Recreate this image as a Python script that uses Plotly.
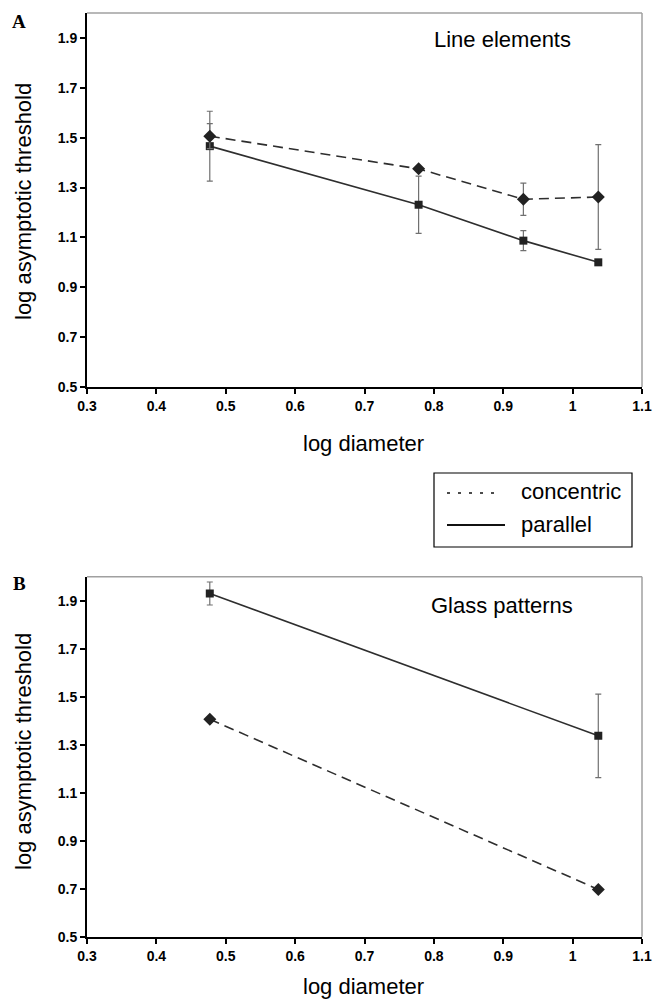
import plotly.graph_objects as go

# ---- data ----
x_line = [0.477, 0.778, 0.929, 1.037]
line_concentric = [1.506, 1.375, 1.253, 1.262]
line_concentric_err = [0.05, 0.0, 0.065, 0.21]
line_parallel = [1.466, 1.231, 1.087, 1.0]
line_parallel_err = [0.14, 0.115, 0.04, 0.0]

x_glass = [0.477, 1.037]
glass_concentric = [1.406, 0.697]
glass_concentric_err = [0.0, 0.0]
glass_parallel = [1.930, 1.337]
glass_parallel_err = [0.048, 0.174]

x_ticks = [0.3, 0.4, 0.5, 0.6, 0.7, 0.8, 0.9, 1.0, 1.1]
x_ticklabels = ["0.3", "0.4", "0.5", "0.6", "0.7", "0.8", "0.9", "1", "1.1"]
y_ticks = [0.5, 0.7, 0.9, 1.1, 1.3, 1.5, 1.7, 1.9]
y_ticklabels = ["0.5", "0.7", "0.9", "1.1", "1.3", "1.5", "1.7", "1.9"]

legend_names = ["concentric", "parallel"]

W, H = 654, 1003
FONT = "Liberation Sans, Arial, sans-serif"
SERIF = "Liberation Serif, Times New Roman, serif"
LINE_C = "#2e2e2e"
ERR_C = "#707070"
DASH = "10px,6px"

fig = go.Figure()


def add_series(x, y, err, symbol, dash, xa, ya, name):
    fig.add_trace(go.Scatter(
        x=x, y=y, mode="lines+markers", xaxis=xa, yaxis=ya, showlegend=False, name=name,
        line=dict(color=LINE_C, width=1.6, dash=dash),
        marker=dict(symbol=symbol, size=8 if symbol == "square" else 10, color="#222222"),
        error_y=dict(type="data", array=err, visible=True, color=ERR_C, thickness=1.2, width=3),
    ))


# panel A
add_series(x_line, line_parallel, line_parallel_err, "square", "solid", "x", "y", legend_names[1])
add_series(x_line, line_concentric, line_concentric_err, "diamond", DASH, "x", "y", legend_names[0])
# panel B
add_series(x_glass, glass_parallel, glass_parallel_err, "square", "solid", "x2", "y2", legend_names[1])
add_series(x_glass, glass_concentric, glass_concentric_err, "diamond", DASH, "x2", "y2", legend_names[0])

xA = [87 / W, 642 / W]
yA = [1 - 387 / H, 1 - 13 / H]
xB = [87 / W, 642 / W]
yB = [1 - 936.7 / H, 1 - 576.7 / H]

tick_font = dict(family=FONT, size=14, color="black", weight="bold")
axis_common_x = dict(
    range=[0.3, 1.1], tickmode="array", tickvals=x_ticks, ticktext=x_ticklabels,
    showgrid=False, zeroline=False, showline=True, linecolor="black", linewidth=2,
    ticks="outside", ticklen=5, tickwidth=2, tickcolor="black", automargin=False,
    tickfont=tick_font,
)
axis_common_y = dict(
    range=[0.5, 2.0], tickmode="array", tickvals=y_ticks, ticktext=y_ticklabels,
    showgrid=False, zeroline=False, showline=True, linecolor="black", linewidth=2,
    ticks="outside", ticklen=5, tickwidth=2, tickcolor="black", automargin=False,
    tickfont=tick_font,
)

fig.update_layout(
    width=W, height=H,
    margin=dict(l=0, r=0, t=0, b=0),
    plot_bgcolor="white", paper_bgcolor="white",
    xaxis=dict(domain=xA, anchor="y", **axis_common_x),
    yaxis=dict(domain=yA, anchor="x", **axis_common_y),
    xaxis2=dict(domain=xB, anchor="y2", **axis_common_x),
    yaxis2=dict(domain=yB, anchor="x2", **axis_common_y),
    showlegend=False,
)

# gray top / right frame lines
for xr, yr in [("x domain", "y domain"), ("x2 domain", "y2 domain")]:
    fig.add_shape(type="line", xref=xr, yref=yr, x0=0, x1=1, y0=1, y1=1,
                  line=dict(color="#a0a0a0", width=1.5))
    fig.add_shape(type="line", xref=xr, yref=yr, x0=1, x1=1, y0=0, y1=1,
                  line=dict(color="#a0a0a0", width=1.5))

title_font = dict(family=FONT, size=22, color="black")


def ann(text, x, y, font, angle=0, xanchor="center"):
    fig.add_annotation(text=text, xref="paper", yref="paper", x=x / W, y=1 - y / H,
                       showarrow=False, font=font, textangle=angle, xanchor=xanchor,
                       yanchor="middle")


# axis titles
ann("log diameter", 363, 443, title_font)
ann("log diameter", 363, 986, title_font)
ann("log asymptotic threshold", 23, 202, title_font, angle=-90)
ann("log asymptotic threshold", 23, 752, title_font, angle=-90)

# panel titles
ann("Line elements", 502, 40, title_font)
ann("Glass patterns", 502, 605, title_font)

# panel letters
ann("<b>A</b>", 19, 21, dict(family=SERIF, size=19, color="black"))
ann("<b>B</b>", 19, 583, dict(family=SERIF, size=19, color="black"))

# legend (box, sample lines, labels)
fig.add_shape(type="rect", xref="paper", yref="paper",
              x0=434 / W, x1=632 / W, y0=1 - 547 / H, y1=1 - 473 / H,
              line=dict(color="black", width=1.2), fillcolor="white")
fig.add_shape(type="line", xref="paper", yref="paper",
              x0=447 / W, x1=502 / W, y0=1 - 493 / H, y1=1 - 493 / H,
              line=dict(color="#111111", width=1.6, dash="3px,8px"))
fig.add_shape(type="line", xref="paper", yref="paper",
              x0=447 / W, x1=505 / W, y0=1 - 525 / H, y1=1 - 525 / H,
              line=dict(color="#111111", width=1.8))
ann(legend_names[0], 519, 492, title_font, xanchor="left")
ann(legend_names[1], 519, 524, title_font, xanchor="left")

fig.write_html(
    "out.html",
    config={"displayModeBar": False},
    post_script="document.body.style.margin='0';document.body.style.overflow='hidden';",
)
